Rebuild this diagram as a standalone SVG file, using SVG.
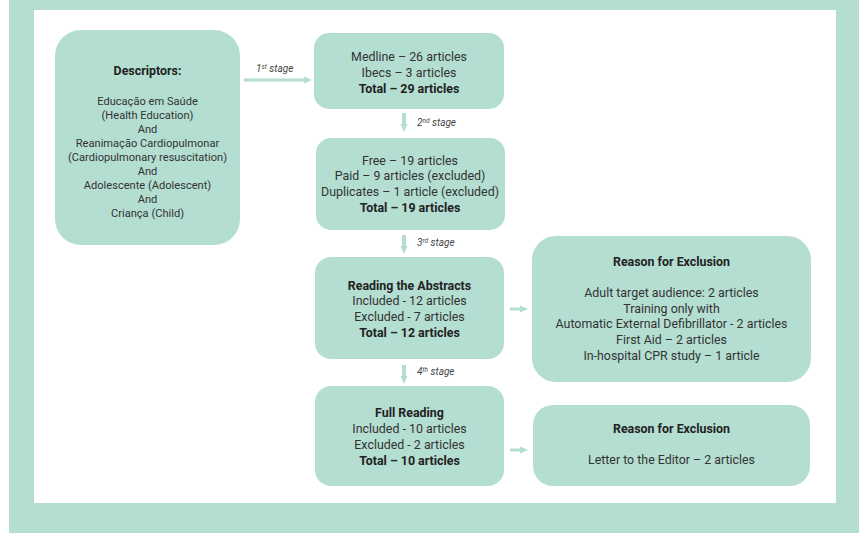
<svg xmlns="http://www.w3.org/2000/svg" width="859" height="533" viewBox="0 0 859 533">
<defs>
<marker id="ah" markerWidth="8" markerHeight="8" refX="1" refY="4" orient="auto" markerUnits="userSpaceOnUse">
<path d="M0,0.5 L8,4 L0,7.5 z" fill="#b4ded1"/>
</marker>
<style>
.box{fill:#b4ded1;}
.t{font-family:Roboto,"Liberation Sans",sans-serif;font-size:12.4px;fill:#333;text-anchor:middle;}
.d{font-size:11.1px;}
.b{font-weight:bold;fill:#222;}
.s{font-family:Roboto,"Liberation Sans",sans-serif;font-size:10px;font-style:italic;fill:#444;}
.sup{font-size:6.5px;}
.c{stroke:#b4ded1;fill:none;marker-end:url(#ah);}
</style>
</defs>
<rect x="0" y="0" width="859" height="533" fill="#ffffff"/>
<rect x="9" y="0" width="850" height="533" fill="#b4ded1"/>
<rect x="34" y="10" width="802" height="493" fill="#ffffff"/>

<g id="connectors">
<line class="c" x1="244" y1="80" x2="305" y2="80" stroke-width="3"/>
<line class="c" x1="404" y1="113" x2="404" y2="125" stroke-width="4"/>
<line class="c" x1="404" y1="235" x2="404" y2="247" stroke-width="4"/>
<line class="c" x1="404" y1="365" x2="404" y2="377" stroke-width="4"/>
<line class="c" x1="510" y1="309" x2="521" y2="309" stroke-width="3"/>
<line class="c" x1="510" y1="450" x2="521" y2="450" stroke-width="3"/>
<text class="s" x="256" y="72">1<tspan class="sup" dy="-3">st</tspan><tspan dy="3"> stage</tspan></text>
<text class="s" x="417" y="126">2<tspan class="sup" dy="-3">nd</tspan><tspan dy="3"> stage</tspan></text>
<text class="s" x="417" y="246">3<tspan class="sup" dy="-3">rd</tspan><tspan dy="3"> stage</tspan></text>
<text class="s" x="417" y="375">4<tspan class="sup" dy="-3">th</tspan><tspan dy="3"> stage</tspan></text>
</g>

<g id="descriptors">
<rect class="box" x="55" y="30" width="185" height="215" rx="26"/>
<text class="t b" x="147.5" y="75">Descriptors:</text>
<text class="t d" x="147.5" y="105">Educação em Saúde</text>
<text class="t d" x="147.5" y="119">(Health Education)</text>
<text class="t d" x="147.5" y="133">And</text>
<text class="t d" x="147.5" y="147">Reanimação Cardiopulmonar</text>
<text class="t d" x="147.5" y="161">(Cardiopulmonary resuscitation)</text>
<text class="t d" x="147.5" y="175">And</text>
<text class="t d" x="147.5" y="189">Adolescente (Adolescent)</text>
<text class="t d" x="147.5" y="203">And</text>
<text class="t d" x="147.5" y="217">Criança (Child)</text>
</g>

<g id="stage1">
<rect class="box" x="314" y="33" width="190" height="76" rx="15"/>
<text class="t" x="409" y="61">Medline – 26 articles</text>
<text class="t" x="409" y="77">Ibecs – 3 articles</text>
<text class="t b" x="409" y="93">Total – 29 articles</text>
</g>

<g id="stage2">
<rect class="box" x="316" y="138" width="189" height="92" rx="15"/>
<text class="t" x="410" y="165">Free – 19 articles</text>
<text class="t" x="410" y="180">Paid – 9 articles (excluded)</text>
<text class="t" x="410" y="196">Duplicates – 1 article (excluded)</text>
<text class="t b" x="410" y="212">Total – 19 articles</text>
</g>

<g id="stage3">
<rect class="box" x="315" y="257" width="189" height="102" rx="16"/>
<text class="t b" x="409.5" y="290">Reading the Abstracts</text>
<text class="t" x="409.5" y="305">Included - 12 articles</text>
<text class="t" x="409.5" y="321">Excluded - 7 articles</text>
<text class="t b" x="409.5" y="337">Total – 12 articles</text>
</g>

<g id="stage4">
<rect class="box" x="315" y="386" width="189" height="100" rx="16"/>
<text class="t b" x="409.5" y="417">Full Reading</text>
<text class="t" x="409.5" y="433">Included - 10 articles</text>
<text class="t" x="409.5" y="449">Excluded - 2 articles</text>
<text class="t b" x="409.5" y="465">Total – 10 articles</text>
</g>

<g id="exclusion1">
<rect class="box" x="532" y="236" width="279" height="146" rx="24"/>
<text class="t b" x="671.5" y="266">Reason for Exclusion</text>
<text class="t" x="671.5" y="297">Adult target audience: 2 articles</text>
<text class="t" x="671.5" y="313">Training only with</text>
<text class="t" x="671.5" y="328">Automatic External Defibrillator - 2 articles</text>
<text class="t" x="671.5" y="344">First Aid – 2 articles</text>
<text class="t" x="671.5" y="360">In-hospital CPR study – 1 article</text>
</g>

<g id="exclusion2">
<rect class="box" x="533" y="405" width="277" height="81" rx="20"/>
<text class="t b" x="671.5" y="433">Reason for Exclusion</text>
<text class="t" x="671.5" y="464">Letter to the Editor – 2 articles</text>
</g>
</svg>
